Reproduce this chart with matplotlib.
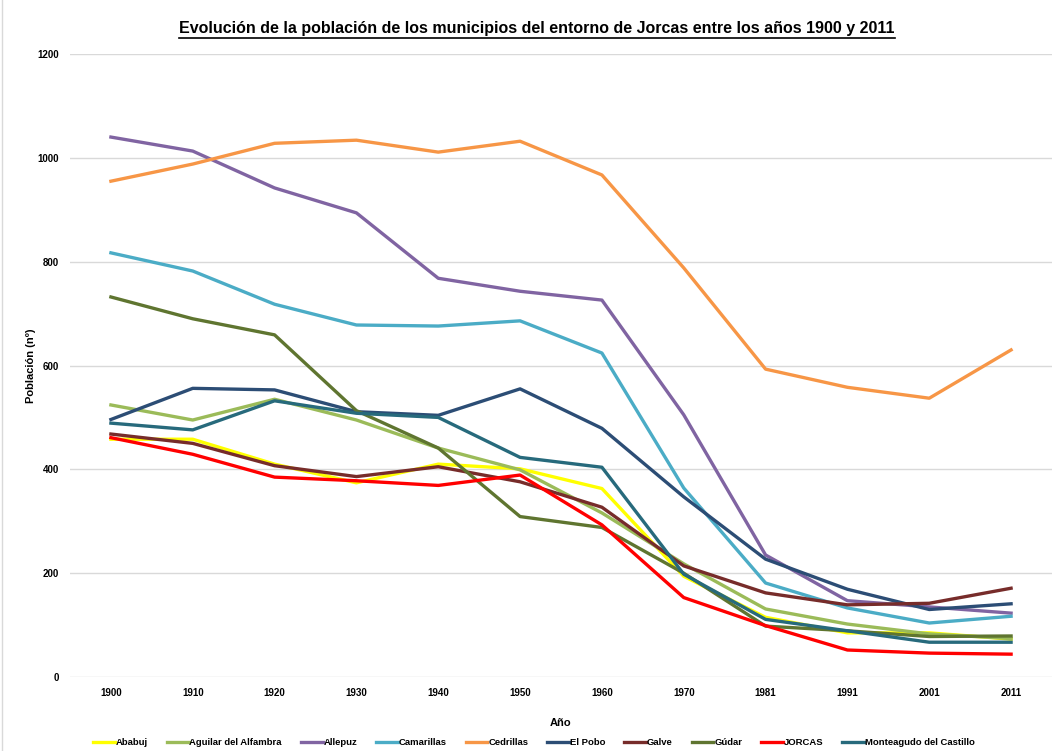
import matplotlib
matplotlib.use("Agg")
import matplotlib.pyplot as plt
from matplotlib.lines import Line2D

plt.rcParams['font.family'] = ['Liberation Sans', 'DejaVu Sans']

years = ["1900", "1910", "1920", "1930", "1940", "1950", "1960", "1970", "1981", "1991", "2001", "2011"]

ababuj = [458, 458, 410, 374, 410, 401, 363, 194, 115, 85, 85, 73]
aguilar = [524, 495, 535, 495, 441, 399, 316, 218, 131, 102, 83, 74]
allepuz = [1040, 1013, 942, 894, 768, 743, 726, 505, 235, 147, 135, 123]
camarillas = [817, 782, 718, 678, 676, 686, 624, 364, 181, 133, 104, 117]
cedrillas = [955, 988, 1028, 1034, 1011, 1032, 967, 788, 593, 558, 537, 630]
el_pobo = [496, 556, 553, 511, 504, 555, 479, 347, 227, 169, 130, 141]
galve = [468, 450, 407, 386, 405, 376, 327, 214, 162, 139, 142, 171]
gudar = [732, 690, 659, 513, 441, 309, 288, 200, 98, 89, 78, 79]
jorcas = [461, 429, 385, 378, 369, 389, 293, 153, 99, 52, 46, 44]
monteagudo = [489, 476, 532, 508, 500, 423, 404, 198, 111, 89, 67, 67]

names = ["Ababuj", "Aguilar del Alfambra", "Allepuz", "Camarillas", "Cedrillas",
         "El Pobo", "Galve", "Gúdar", "JORCAS", "Monteagudo del Castillo"]
series = [ababuj, aguilar, allepuz, camarillas, cedrillas, el_pobo, galve, gudar, jorcas, monteagudo]
colors = ["#FFFF00", "#9BBB59", "#8064A2", "#4BACC6", "#F79646",
          "#2C4D75", "#772C2A", "#5F7530", "#FF0000", "#276A7C"]

fig = plt.figure(figsize=(10.54, 7.51), dpi=100)
W, H = 1054, 751
ax = fig.add_axes([70 / W, (H - 677) / H, 982 / W, 623 / H])

x = list(range(len(years)))
for name, vals, c in zip(names, series, colors):
    ax.plot(x, vals, color=c, linewidth=2.4, label=name)

ax.set_xlim(-0.5, 11.5)
ax.set_ylim(0, 1200)
ax.set_yticks(range(0, 1201, 200))
ax.set_xticks(x)
ax.set_xticklabels(years)
ax.grid(axis='y', color='#D9D9D9', linewidth=1)
ax.set_axisbelow(True)
for s in ax.spines.values():
    s.set_visible(False)
ax.tick_params(length=0, pad=8)
for lab in ax.get_xticklabels() + ax.get_yticklabels():
    lab.set_fontweight('bold')
    lab.set_fontsize(7)

ax.set_ylabel("Población (nº)", fontsize=8, fontweight='bold', labelpad=1)
ax.set_xlabel("Año", fontsize=8, fontweight='bold', labelpad=14)

ax.legend(loc='center', bbox_to_anchor=(0.4725, -0.105), ncol=10, frameon=False,
          handlelength=2.3, handletextpad=0.1, columnspacing=2.0,
          prop={'weight': 'bold', 'size': 6.8})

title = fig.text(537 / W, 1 - 28 / H, "Evolución de la población de los municipios del entorno de Jorcas entre los años 1900 y 2011",
                 ha='center', va='center', fontsize=11.5, fontweight='bold')

fig.canvas.draw()
bb = title.get_window_extent()
y_line = (bb.y0 - 2) / H
fig.add_artist(Line2D([bb.x0 / W, bb.x1 / W], [y_line, y_line], color='black', linewidth=1.2))

# chart border on left
fig.add_artist(Line2D([2 / W, 2 / W], [0, 1], color='#D9D9D9', linewidth=1))

fig.savefig("out.png", dpi=100)
